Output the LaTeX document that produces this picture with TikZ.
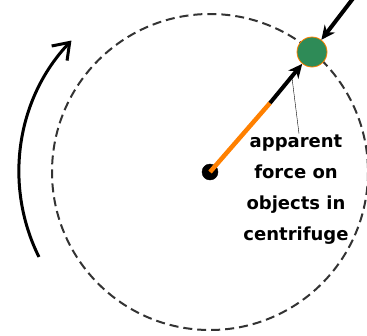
\documentclass[tikz,border=0pt]{standalone}
\usepackage{fontspec}
\setmainfont{DejaVu Sans}
\usepackage{tikz}
\usetikzlibrary{arrows.meta,positioning,calc}
\definecolor{ballgreen}{RGB}{46,139,87}
\tikzset{
  pathcirc/.style={draw=black!80, line width=2pt, dash pattern=on 9pt off 5pt},
  hubdot/.style={draw, circle, fill=black, minimum size=16pt, inner sep=0pt},
  massball/.style={draw=orange, circle, fill=ballgreen, minimum size=30pt, inner sep=0pt, line width=0.8pt},
  armline/.style={orange, line width=4.5pt},
  forcearr/.style={-{Stealth[length=14pt, width=13pt]}, line width=4pt},
  spinarr/.style={-{Straight Barb[angle=90:15pt, length=15pt]}, line width=3pt},
  notetext/.style={font=\bfseries\fontsize{18}{31}\selectfont, align=center},
}
\begin{document}
\begin{tikzpicture}[>=Latex, x=1pt, y=-1pt]
  \useasboundingbox (0,0) rectangle (367,335);
  \fill[white] (0,0) rectangle (367,335);

  % rotating frame
  \draw[pathcirc] (210,172) circle (158);
  \draw[spinarr] (210,172) ++(153.6:191) arc (153.6:223.5:191);

  \node[hubdot] (hub) at (210,172) {};
  \node[massball] (mass) at (312,52) {};
  \coordinate (elbow) at (270,103);
  \coordinate (outside) at (358,-8);

  \draw[armline] (hub.center) -- (elbow);
  \draw[forcearr] (elbow) -- (mass);
  \draw[forcearr] (outside) -- (mass);

  \node[notetext] (note) at (296,190) {apparent\\force on\\objects in\\centrifuge};
  \draw[thin] ($(note.north)+(3,2)$) -- ($(elbow)!0.52!(mass)$);
\end{tikzpicture}
\end{document}
